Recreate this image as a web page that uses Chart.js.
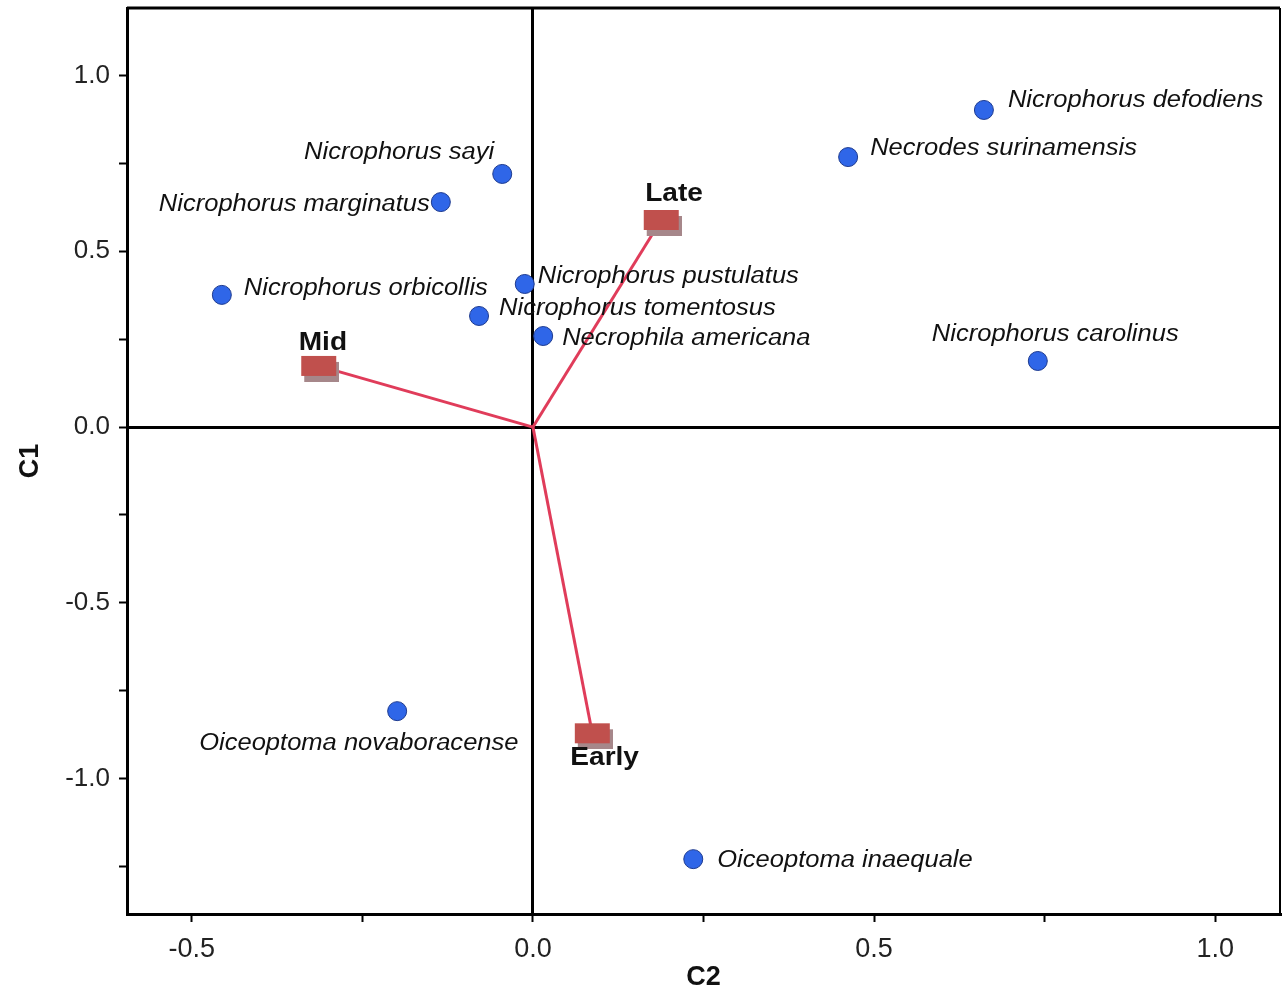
<!DOCTYPE html>
<html>
<head>
<meta charset="utf-8">
<title>CA biplot</title>
<script src="https://cdn.jsdelivr.net/npm/chart.js@4.4.1/dist/chart.umd.min.js"></script>
<style>
  body { margin: 0; background: #fff; }
</style>
</head>
<body>
<canvas id="biplot" width="1282" height="995"></canvas>
<script>
// species scores (C2 on the x axis, C1 on the y axis)
const speciesNames = [
  'Nicrophorus defodiens', 'Necrodes surinamensis', 'Nicrophorus sayi',
  'Nicrophorus marginatus', 'Nicrophorus pustulatus', 'Nicrophorus orbicollis',
  'Nicrophorus tomentosus', 'Necrophila americana', 'Nicrophorus carolinus',
  'Oiceoptoma novaboracense', 'Oiceoptoma inaequale'
];
const speciesC2 = [0.661, 0.462, -0.045, -0.135, -0.012, -0.456, -0.079, 0.015, 0.740, -0.199, 0.235];
const speciesC1 = [0.902, 0.768, 0.720, 0.640, 0.407, 0.376, 0.316, 0.259, 0.188, -0.808, -1.229];

// season vectors
const periodNames = ['Mid', 'Late', 'Early'];
const periodC2 = [-0.314, 0.188, 0.087];
const periodC1 = [0.174, 0.589, -0.871];

// axes
const xRange = [-0.595, 1.095];
const yRange = [-1.385, 1.192];
const tickStep = 0.25;
const labelStep = 0.5;

// label placement in pixels relative to the marker: [dx, dy, align]
const speciesLabelOffsets = [
  [24, -9, 'left'], [22, -8, 'left'], [-8, -21, 'right'], [-11, 3, 'right'],
  [13, -7, 'left'], [22, -6, 'left'], [20, -7, 'left'], [19, 3, 'left'],
  [-106, -26, 'left'], [-198, 32, 'left'], [24, 1, 'left']
];
const periodLabelOffsets = [[-20, -23], [-16, -26], [-22, 25]];

const FONT = '"Liberation Sans", Arial, sans-serif';

function makeSquare() {
  const c = document.createElement('canvas');
  c.width = 41; c.height = 32;
  const g = c.getContext('2d');
  g.fillStyle = '#a6878a';
  g.fillRect(6, 12, 35, 20);
  g.fillStyle = '#c0504d';
  g.fillRect(3, 6, 35, 20);
  return c;
}

function drawStretched(ctx, text, px, py, sx, align) {
  ctx.save();
  ctx.translate(px, py);
  ctx.scale(sx, 1);
  ctx.textAlign = align || 'left';
  ctx.fillText(text, 0, 0);
  ctx.restore();
}

const labelPlugin = {
  id: 'pointLabels',
  afterDatasetsDraw(chart) {
    const {ctx, scales: {x, y}} = chart;
    ctx.save();
    ctx.textBaseline = 'middle';
    ctx.fillStyle = '#111';
    ctx.font = 'italic 23px ' + FONT;
    speciesNames.forEach((name, i) => {
      const [dx, dy, align] = speciesLabelOffsets[i];
      drawStretched(ctx, name, x.getPixelForValue(speciesC2[i]) + dx,
        y.getPixelForValue(speciesC1[i]) + dy, 1.11, align);
    });
    ctx.font = 'bold 26px ' + FONT;
    periodNames.forEach((name, i) => {
      const [dx, dy] = periodLabelOffsets[i];
      drawStretched(ctx, name, x.getPixelForValue(periodC2[i]) + dx,
        y.getPixelForValue(periodC1[i]) + dy, 1.08, 'left');
    });
    ctx.restore();
  }
};

const framePlugin = {
  id: 'frame',
  afterDraw(chart) {
    const {ctx, chartArea: a} = chart;
    ctx.save();
    ctx.strokeStyle = '#000';
    ctx.lineWidth = 3;
    ctx.beginPath();
    ctx.moveTo(a.left, a.top);
    ctx.lineTo(a.right, a.top);
    ctx.stroke();
    ctx.lineWidth = 2;
    ctx.beginPath();
    ctx.moveTo(a.right, a.top);
    ctx.lineTo(a.right, a.bottom);
    ctx.stroke();
    ctx.restore();
  }
};

const onHalf = v => Math.abs(v / labelStep - Math.round(v / labelStep)) < 1e-6;

// pin the plot box: no extra room for overhanging tick labels
function noPad(s) {
  s.paddingLeft = 0; s.paddingRight = 0;
  s.paddingTop = 0; s.paddingBottom = 0;
}

const vectorSets = periodNames.map((name, i) => ({
  label: name + ' vector',
  data: [{x: 0, y: 0}, {x: periodC2[i], y: periodC1[i]}],
  showLine: true,
  borderColor: '#e03c5a',
  borderWidth: 3,
  pointRadius: 0,
  order: 3
}));

const square = makeSquare();

new Chart(document.getElementById('biplot'), {
  type: 'scatter',
  data: {
    datasets: [
      {
        label: 'Season',
        data: periodNames.map((n, i) => ({x: periodC2[i], y: periodC1[i]})),
        pointStyle: square,
        order: 1
      },
      {
        label: 'Species',
        data: speciesNames.map((n, i) => ({x: speciesC2[i], y: speciesC1[i]})),
        pointRadius: 9.5,
        backgroundColor: '#2f66e8',
        borderColor: '#1d3a8f',
        borderWidth: 1,
        order: 2
      },
      ...vectorSets
    ]
  },
  options: {
    responsive: false,
    animation: false,
    layout: { autoPadding: false, padding: { top: 8, right: 2, left: 0, bottom: 0 } },
    plugins: { legend: { display: false }, tooltip: { enabled: false } },
    scales: {
      x: {
        type: 'linear',
        min: xRange[0], max: xRange[1],
        afterFit: s => { s.height = 81; noPad(s); },
        border: { display: true, color: '#000', width: 3 },
        grid: {
          color: c => (c.tick && c.tick.value === 0) ? '#000' : 'rgba(0,0,0,0)',
          lineWidth: 3,
          tickColor: '#000',
          tickWidth: 2,
          tickLength: 8
        },
        ticks: {
          stepSize: tickStep,
          includeBounds: false,
          autoSkip: false,
          maxRotation: 0,
          padding: 11,
          color: '#222',
          font: { family: FONT, size: 27 },
          callback: v => onHalf(v) ? v.toFixed(1) : ''
        },
        title: {
          display: true, text: 'C2', color: '#111',
          font: { family: FONT, size: 27, weight: 'bold' },
          padding: { top: 0, bottom: 1 }
        }
      },
      y: {
        type: 'linear',
        min: yRange[0], max: yRange[1],
        afterFit: s => { s.width = 127; noPad(s); },
        border: { display: true, color: '#000', width: 3 },
        grid: {
          color: c => (c.tick && c.tick.value === 0) ? '#000' : 'rgba(0,0,0,0)',
          lineWidth: 3,
          tickColor: '#000',
          tickWidth: 2,
          tickLength: 8
        },
        ticks: {
          stepSize: tickStep,
          includeBounds: false,
          autoSkip: false,
          padding: 9,
          color: '#222',
          font: { family: FONT, size: 26 },
          callback: v => onHalf(v) ? v.toFixed(1) : ''
        },
        title: {
          display: true, text: 'C1', color: '#111',
          font: { family: FONT, size: 27, weight: 'bold' },
          padding: { top: 14, bottom: 0 }
        }
      }
    }
  },
  plugins: [labelPlugin, framePlugin]
});
</script>
</body>
</html>
